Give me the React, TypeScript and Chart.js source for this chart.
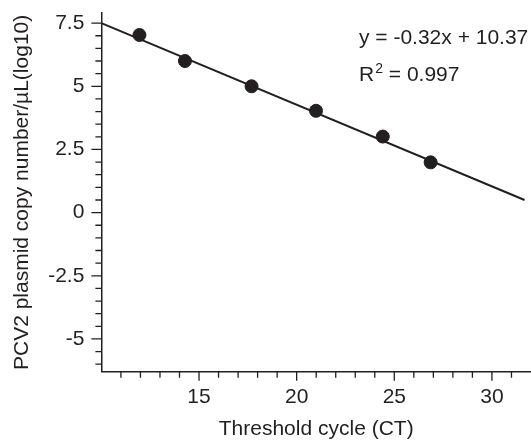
import React, { useEffect, useRef } from "react";
import { Chart, registerables } from "chart.js";

Chart.register(...registerables);

// ---- data ----
const ctValues = [11.95, 14.28, 17.69, 20.99, 24.41, 26.86];
const logCopies = [7.03, 6.0, 5.0, 4.03, 3.01, 1.99];
const fitLineX = [10, 31.67];
const fitLineY = [7.5, 0.5];
const equationText = "y = -0.32x + 10.37";
const r2Label = "R";
const r2Sup = "2";
const r2Value = " = 0.997";
const xTitle = "Threshold cycle (CT)";
const yTitle = "PCV2 plasmid copy number/\u00b5L(log10)";
const xMajorTicks = [15, 20, 25, 30];
const yMajorTicks = [-5, -2.5, 0, 2.5, 5, 7.5];
const xMinorTicks = [11, 12, 13, 14, 16, 17, 18, 19, 21, 22, 23, 24, 26, 27, 28, 29, 31];
const yMinorTicks = [-6, -5.5, -4.5, -4, -3.5, -3, -2, -1.5, -1, -0.5, 0.5, 1, 1.5, 2, 3, 3.5, 4, 4.5, 5.5, 6, 6.5, 7];
const xRange = [10, 32];
const yRange = [-6.3, 7.9];

const INK = "#231f20";
const FONT = "'Liberation Sans', Arial, Helvetica, sans-serif";

const tickPlugin = {
  id: "customTicks",
  afterDraw(chart: any) {
    const { ctx, chartArea, scales } = chart;
    const xs = scales.x;
    const ys = scales.y;
    ctx.save();
    ctx.strokeStyle = INK;
    ctx.lineWidth = 1.3;
    ctx.beginPath();
    const yAll = [...yMajorTicks.map((v) => [v, 10]), ...yMinorTicks.map((v) => [v, 6])];
    for (const [v, len] of yAll) {
      const py = ys.getPixelForValue(v);
      ctx.moveTo(chartArea.left - len, py);
      ctx.lineTo(chartArea.left, py);
    }
    const xAll = [...xMajorTicks.map((v) => [v, 9]), ...xMinorTicks.map((v) => [v, 6])];
    for (const [v, len] of xAll) {
      const px = xs.getPixelForValue(v);
      ctx.moveTo(px, chartArea.bottom);
      ctx.lineTo(px, chartArea.bottom + len);
    }
    ctx.stroke();

    // regression equation annotation
    ctx.fillStyle = INK;
    ctx.textBaseline = "alphabetic";
    ctx.textAlign = "left";
    ctx.font = `21px ${FONT}`;
    const tx = 359;
    ctx.fillText(equationText, tx, 44);
    ctx.fillText(r2Label, tx, 81);
    const rw = ctx.measureText(r2Label).width;
    ctx.font = `14px ${FONT}`;
    ctx.fillText(r2Sup, tx + rw + 1, 73);
    const sw = ctx.measureText(r2Sup).width;
    ctx.font = `21px ${FONT}`;
    ctx.fillText(r2Value, tx + rw + 1 + sw, 81);
    ctx.restore();
  },
};

export default function App() {
  const ref = useRef<HTMLCanvasElement | null>(null);

  useEffect(() => {
    if (!ref.current) return;
    const chart = new Chart(ref.current, {
      type: "scatter",
      data: {
        datasets: [
          {
            label: "points",
            data: ctValues.map((x, i) => ({ x, y: logCopies[i] })),
            backgroundColor: INK,
            borderColor: INK,
            pointRadius: 6.5,
            pointHoverRadius: 6.5,
            order: 0,
          },
          {
            type: "line",
            label: "fit",
            data: fitLineX.map((x, i) => ({ x, y: fitLineY[i] })),
            borderColor: INK,
            borderWidth: 2,
            pointRadius: 0,
            showLine: true,
            fill: false,
            order: 1,
          } as any,
        ],
      },
      options: {
        responsive: false,
        animation: false,
        layout: { autoPadding: false, padding: { top: 13, left: 0, right: 0, bottom: 0 } },
        plugins: { legend: { display: false }, tooltip: { enabled: false } },
        scales: {
          x: {
            type: "linear",
            min: xRange[0],
            max: xRange[1],
            afterBuildTicks: (scale: any) => {
              scale.ticks = [...xMinorTicks, ...xMajorTicks].sort((a, b) => a - b).map((v) => ({ value: v }));
            },
            ticks: {
              autoSkip: false,
              maxRotation: 0,
              padding: 0,
              color: INK,
              font: { family: FONT, size: 21 },
              callback: (v: any) => (xMajorTicks.includes(Number(v)) ? String(v) : null),
            },
            grid: { drawOnChartArea: false, drawTicks: true, tickLength: 13, tickColor: "rgba(0,0,0,0)" },
            border: { display: true, color: INK, width: 1.5 },
            title: {
              display: true,
              text: xTitle,
              color: INK,
              font: { family: FONT, size: 21, lineHeight: 1 },
              padding: { top: 9, bottom: 0 },
            },
          },
          y: {
            type: "linear",
            min: yRange[0],
            max: yRange[1],
            afterBuildTicks: (scale: any) => {
              scale.ticks = [...yMinorTicks, ...yMajorTicks].sort((a, b) => a - b).map((v) => ({ value: v }));
            },
            ticks: {
              autoSkip: false,
              padding: 0,
              color: INK,
              font: { family: FONT, size: 21 },
              callback: (v: any) => (yMajorTicks.includes(Number(v)) ? String(v) : null),
            },
            grid: { drawOnChartArea: false, drawTicks: true, tickLength: 17, tickColor: "rgba(0,0,0,0)" },
            border: { display: true, color: INK, width: 1.5 },
            title: {
              display: true,
              text: yTitle,
              color: INK,
              font: { family: FONT, size: 21, lineHeight: 1.2 },
              padding: { top: 10, bottom: 13 },
            },
          },
        },
      },
      plugins: [tickPlugin],
    });
    return () => chart.destroy();
  }, []);

  return (
    <div style={{ position: "absolute", left: 0, top: 0, width: 531, height: 440, background: "#fff" }}>
      <canvas ref={ref} width={531} height={440} style={{ display: "block", width: 531, height: 440 }} />
    </div>
  );
}
